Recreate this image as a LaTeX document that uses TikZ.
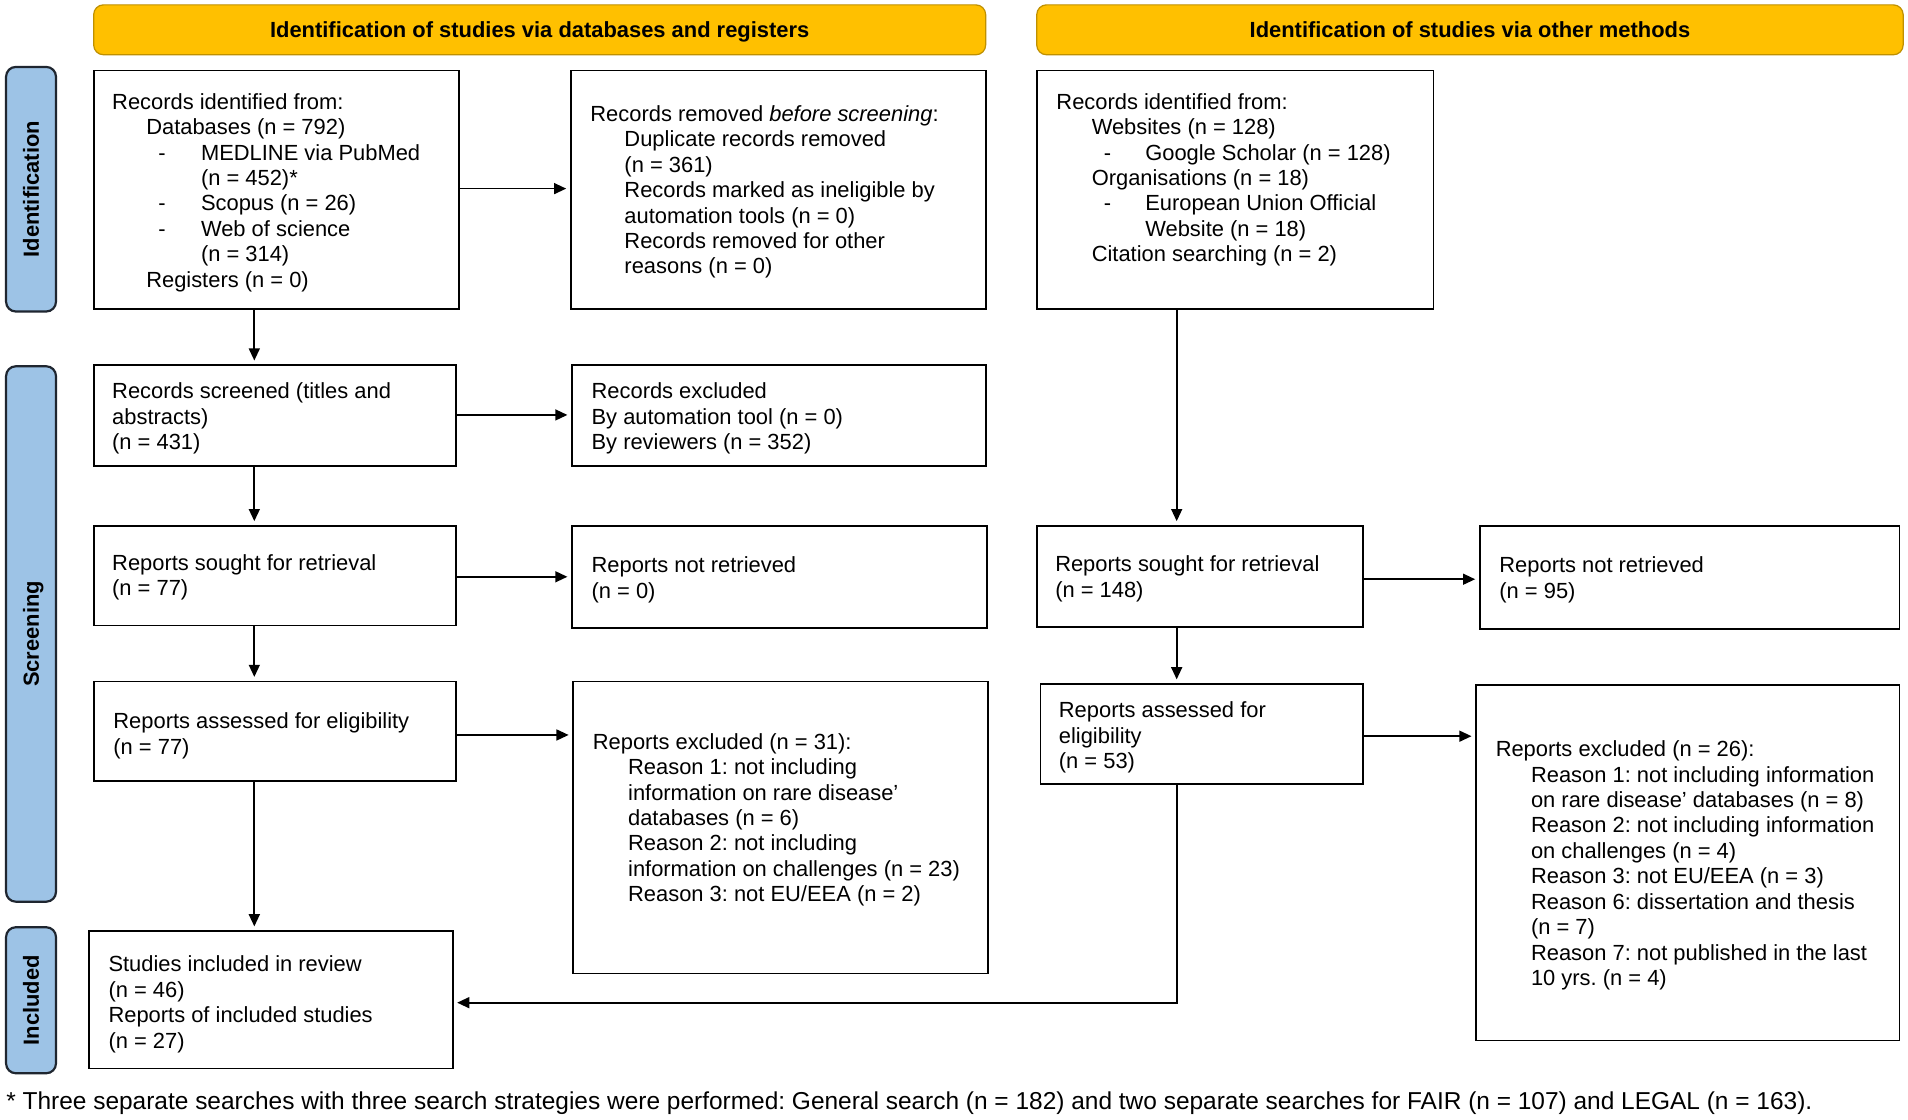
\documentclass[tikz,border=0pt]{standalone}
\usepackage{fontspec}
\setmainfont{Liberation Sans}
\usetikzlibrary{arrows.meta,calc}
\definecolor{hdryellow}{HTML}{FFC000}
\definecolor{hdrborder}{HTML}{BF9000}
\definecolor{sideblue}{HTML}{9DC3E6}
\definecolor{sideborder}{HTML}{1F2630}
\frenchspacing
\begin{document}
\begin{tikzpicture}[x=1pt,y=-1pt,
  box/.style={draw=black, line width=1.4pt, inner sep=0pt, fill=white},
  txt/.style={inner sep=0pt, align=left, anchor=north west, font=\frenchspacing\fontsize{18}{20.9}\selectfont},
  hdr/.style={draw=hdrborder, line width=1pt, fill=hdryellow, rounded corners=8pt, inner sep=0pt,
    minimum height=41pt, text height=13pt, text depth=0pt, font=\bfseries\fontsize{18}{20.9}\selectfont},
  side/.style={draw=sideborder, line width=1.8pt, fill=sideblue, rounded corners=8pt, inner sep=0pt,
    minimum height=41pt, rotate=90, text height=13pt, text depth=0pt, font=\bfseries\fontsize{18}{20.9}\selectfont},
  arr/.style={line width=1.4pt, -{Triangle[length=10pt,width=9pt]}, shorten >=3pt},
  foot/.style={inner sep=0pt, anchor=base west, font=\frenchspacing\fontsize{20.1}{23}\selectfont}]
\useasboundingbox (0,0) rectangle (1568,920.4);
\fill[white] (0,0) rectangle (1568,920.4);

% headers
\node[hdr, minimum width=733pt] (H1) at (443.5,24.5) {Identification of studies via databases and registers};
\node[hdr, minimum width=712pt] (H2) at (1208,24.5) {Identification of studies via other methods};

% side bars
\node[side, minimum width=201pt] (S1) at (25.5,155.5) {Identification};
\node[side, minimum width=440pt] (S2) at (25.5,521) {Screening};
\node[side, minimum width=120pt] (S3) at (25.5,822) {Included};

% boxes
\node[box, minimum width=300pt, minimum height=196pt] (A1) at (227,156) {};
\node[box, minimum width=341pt, minimum height=196pt] (A2) at (639.5,156) {};
\node[box, minimum width=326pt, minimum height=196pt] (B1) at (1015,156) {};
\node[box, minimum width=298pt, minimum height=83pt] (A3) at (226,341.5) {};
\node[box, minimum width=340pt, minimum height=83pt] (A4) at (640,341.5) {};
\node[box, minimum width=298pt, minimum height=82pt] (A5) at (226,473) {};
\node[box, minimum width=341pt, minimum height=84pt] (A6) at (640.5,474) {};
\node[box, minimum width=268pt, minimum height=83pt] (B5) at (986,473.5) {};
\node[box, minimum width=345pt, minimum height=85pt] (B6) at (1388.5,474.5) {};
\node[box, minimum width=298pt, minimum height=82pt] (A7) at (226,601) {};
\node[box, minimum width=341pt, minimum height=240pt] (A8) at (641.5,680) {};
\node[box, minimum width=265pt, minimum height=82pt] (B7) at (987.5,603) {};
\node[box, minimum width=348pt, minimum height=292pt] (B8) at (1387,709) {};
\node[box, minimum width=299pt, minimum height=113pt] (A9) at (222.5,821.5) {};

% texts
\node[txt] (tA1) at (92,76.5) {Records identified from:\\
\hspace*{28pt}Databases (n = 792)\\
\hspace*{38pt}\makebox[35pt][l]{-}MEDLINE via PubMed\\
\hspace*{73pt}(n = 452)*\\
\hspace*{38pt}\makebox[35pt][l]{-}Scopus (n = 26)\\
\hspace*{38pt}\makebox[35pt][l]{-}Web of science\\
\hspace*{73pt}(n = 314)\\
\hspace*{28pt}Registers (n = 0)};

\node[txt] (tA2) at (485,86.5) {Records removed \textit{before screening}:\\
\hspace*{28pt}Duplicate records removed\\
\hspace*{28pt}(n = 361)\\
\hspace*{28pt}Records marked as ineligible by\\
\hspace*{28pt}automation tools (n = 0)\\
\hspace*{28pt}Records removed for other\\
\hspace*{28pt}reasons (n = 0)};

\node[txt] (tB1) at (868,76.5) {Records identified from:\\
\hspace*{29pt}Websites (n = 128)\\
\hspace*{39pt}\makebox[34pt][l]{-}Google Scholar (n = 128)\\
\hspace*{29pt}Organisations (n = 18)\\
\hspace*{39pt}\makebox[34pt][l]{-}European Union Official\\
\hspace*{73pt}Website (n = 18)\\
\hspace*{29pt}Citation searching (n = 2)};

\node[txt] (tA3) at (92,314.5) {Records screened (titles and\\abstracts)\\(n = 431)};
\node[txt] (tA4) at (486,314.5) {Records excluded\\By automation tool (n = 0)\\By reviewers (n = 352)};
\node[txt] (tA5) at (92,455.5) {Reports sought for retrieval\\(n = 77)};
\node[txt] (tA6) at (486,457.5) {Reports not retrieved\\(n = 0)};
\node[txt] (tB5) at (867,456.5) {Reports sought for retrieval\\(n = 148)};
\node[txt] (tB6) at (1232,457.5) {Reports not retrieved\\(n = 95)};
\node[txt] (tA7) at (93,585.5) {Reports assessed for eligibility\\(n = 77)};
\node[txt] (tA8) at (487,602.5) {Reports excluded (n = 31):\\
\hspace*{29pt}Reason 1: not including\\
\hspace*{29pt}information on rare disease’\\
\hspace*{29pt}databases (n = 6)\\
\hspace*{29pt}Reason 2: not including\\
\hspace*{29pt}information on challenges (n = 23)\\
\hspace*{29pt}Reason 3: not EU/EEA (n = 2)};
\node[txt] (tB7) at (870,576.5) {Reports assessed for\\eligibility\\(n = 53)};
\node[txt] (tB8) at (1229,608.5) {Reports excluded (n = 26):\\
\hspace*{29pt}Reason 1: not including information\\
\hspace*{29pt}on rare disease’ databases (n = 8)\\
\hspace*{29pt}Reason 2: not including information\\
\hspace*{29pt}on challenges (n = 4)\\
\hspace*{29pt}Reason 3: not EU/EEA (n = 3)\\
\hspace*{29pt}Reason 6: dissertation and thesis\\
\hspace*{29pt}(n = 7)\\
\hspace*{29pt}Reason 7: not published in the last\\
\hspace*{29pt}10 yrs. (n = 4)};
\node[txt] (tA9) at (89,785.5) {Studies included in review\\(n = 46)\\Reports of included studies\\(n = 27)};

% footnote
\node[foot] (fn) at (5,912) {* Three separate searches with three search strategies were performed: General search (n = 182) and two separate searches for FAIR (n = 107) and LEGAL (n = 163).};

% connectors
\coordinate (colA) at (209,0);
\coordinate (colB) at (967,0);
\draw[arr] (A1.east |- 0,155) -- (A2.west |- 0,155);
\draw[arr] (A1.south -| colA) -- (A3.north -| colA);
\draw[arr] (A3.east |- 0,341) -- (A4.west |- 0,341);
\draw[arr] (A3.south -| colA) -- (A5.north -| colA);
\draw[arr] (A5.east |- 0,474) -- (A6.west |- 0,474);
\draw[arr] (A5.south -| colA) -- (A7.north -| colA);
\draw[arr] (A7.east |- 0,604) -- (A8.west |- 0,604);
\draw[arr] (A7.south -| colA) -- (A9.north -| colA);
\draw[arr] (B1.south -| colB) -- (B5.north -| colB);
\draw[arr] (B5.east |- 0,476) -- (B6.west |- 0,476);
\draw[arr] (B5.south -| colB) -- (B7.north -| colB);
\draw[arr] (B7.east |- 0,605) -- (B8.west |- 0,605);
\draw[arr] (B7.south -| colB) |- (A9.east |- 0,824);
\end{tikzpicture}
\end{document}
